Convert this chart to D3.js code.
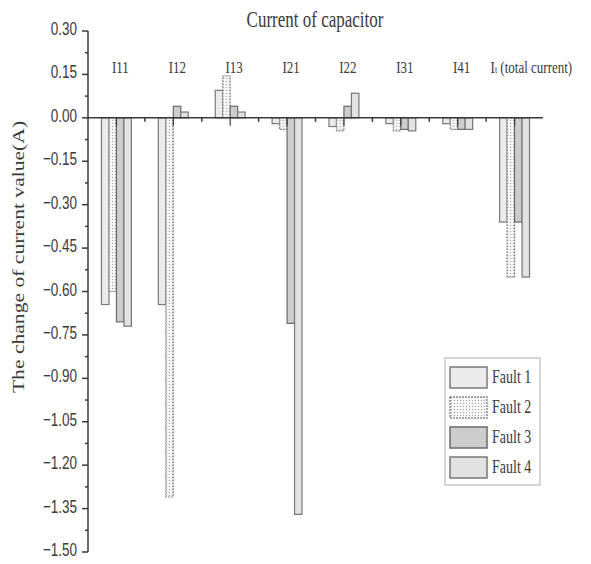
<!DOCTYPE html>
<html>
<head>
<meta charset="utf-8">
<script src="https://cdn.jsdelivr.net/npm/d3@7"></script>
<style>
  body { margin: 0; background: #fff; }
  svg { display: block; }
</style>
</head>
<body>
<svg width="591" height="564"></svg>
<script>
"use strict";

const categories = ["I11", "I12", "I13", "I21", "I22", "I31", "I41", "It"];
const series = ["Fault 1", "Fault 2", "Fault 3", "Fault 4"];
const fault1 = [-0.645, -0.645, 0.095, -0.02, -0.03, -0.02, -0.02, -0.36];
const fault2 = [-0.60, -1.31, 0.145, -0.04, -0.045, -0.045, -0.04, -0.55];
const fault3 = [-0.705, 0.04, 0.04, -0.71, 0.04, -0.04, -0.04, -0.36];
const fault4 = [-0.72, 0.02, 0.02, -1.37, 0.085, -0.045, -0.04, -0.55];
const yTicks = [0.30, 0.15, 0.00, -0.15, -0.30, -0.45, -0.60, -0.75, -0.90, -1.05, -1.20, -1.35, -1.50];

const values = [fault1, fault2, fault3, fault4];
const svg = d3.select("svg");
const stretch = 1.35;
const ink = "#3a3a3a";

const y = d3.scaleLinear().domain([-1.5, 0.3]).range([552, 31]);
const x = d3.scaleBand().domain(categories).range([88, 543]);
const x1 = d3.scaleBand().domain(series).range([0, x.bandwidth()]).paddingOuter(1.8);

// fills for the four faults
const defs = svg.append("defs");
const dots = defs.append("pattern")
  .attr("id", "dots").attr("width", 3).attr("height", 3)
  .attr("patternUnits", "userSpaceOnUse");
dots.append("rect").attr("width", 3).attr("height", 3).attr("fill", "#f6f6f6");
dots.append("rect").attr("width", 1).attr("height", 1).attr("fill", "#9a9a9a");

const fills = ["#ebebeb", "url(#dots)", "#cdcdcd", "#e2e2e2"];
const strokes = ["#7a7a7a", "#8a8a8a", "#6a6a6a", "#777"];

// bars
const groups = svg.append("g").selectAll("g")
  .data(categories)
  .join("g")
  .attr("transform", d => `translate(${x(d)},0)`);

groups.selectAll("rect")
  .data((d, i) => series.map((s, k) => ({ s: s, k: k, v: values[k][i] })))
  .join("rect")
  .attr("x", d => x1(d.s))
  .attr("width", x1.bandwidth())
  .attr("y", d => y(Math.max(0, d.v)))
  .attr("height", d => Math.abs(y(d.v) - y(0)))
  .attr("fill", d => fills[d.k])
  .attr("stroke", d => strokes[d.k])
  .attr("stroke-width", 1.2)
  .attr("stroke-dasharray", d => d.k === 1 ? "2,1" : null);

// stretched text helper
function label(g, tx, ty, txt, size, family, anchor, rot) {
  return g.append("text")
    .attr("transform", `translate(${tx},${ty}) scale(1,${stretch})` + (rot ? ` rotate(${rot})` : ""))
    .attr("font-size", size)
    .attr("font-family", family)
    .attr("text-anchor", anchor)
    .attr("fill", ink)
    .text(txt);
}

// y axis
const yAxis = svg.append("g").attr("transform", "translate(88,0)");
yAxis.append("line").attr("y1", y(0.3)).attr("y2", y(-1.5))
  .attr("stroke", ink).attr("stroke-width", 1.5);
yAxis.selectAll(".major").data(yTicks).join("line")
  .attr("x1", -6).attr("x2", 0)
  .attr("y1", d => y(d)).attr("y2", d => y(d))
  .attr("stroke", ink).attr("stroke-width", 1.5);
yAxis.selectAll(".minor").data(yTicks.slice(1)).join("line")
  .attr("x1", -3).attr("x2", 0)
  .attr("y1", d => y(d + 0.075)).attr("y2", d => y(d + 0.075))
  .attr("stroke", ink).attr("stroke-width", 1.5);
yTicks.forEach(t => {
  label(yAxis, -11, y(t) + 4, d3.format(".2f")(t), 13.5,
    "'Liberation Sans Narrow', 'Liberation Sans', sans-serif", "end");
});

// x axis at zero
const xAxis = svg.append("g").attr("transform", `translate(0,${y(0)})`);
xAxis.append("line").attr("x1", 88).attr("x2", 543)
  .attr("stroke", ink).attr("stroke-width", 1.5);
xAxis.selectAll(".tick").data(categories).join("line")
  .attr("x1", d => x(d) + x.bandwidth() / 2).attr("x2", d => x(d) + x.bandwidth() / 2)
  .attr("y1", 0).attr("y2", 8)
  .attr("stroke", ink).attr("stroke-width", 1.2);
xAxis.selectAll(".minor").data(categories.slice(1)).join("line")
  .attr("x1", d => x(d)).attr("x2", d => x(d))
  .attr("y1", 0).attr("y2", 4)
  .attr("stroke", ink).attr("stroke-width", 1.5);

// category labels
const serif = "'Liberation Serif', 'Times New Roman', serif";
categories.forEach((c, i) => {
  const cx = x(c) + x.bandwidth() / 2;
  const last = i === categories.length - 1;
  const t = label(svg, last ? cx - 24 : cx + 4, 73, "", 13, serif, last ? "start" : "middle");
  t.append("tspan").text(c[0]);
  t.append("tspan").attr("font-size", last ? 8 : 13).text(c.slice(1));
  if (last) t.append("tspan").text(" (total current)");
});

// titles
label(svg, 315, 27, "Current of capacitor", 17, serif, "middle");
label(svg, 24, 257, "The change of current value(A)", 16, serif, "middle", -90);

// legend
const legend = svg.append("g").attr("transform", "translate(445,358)");
legend.append("rect").attr("width", 95).attr("height", 127)
  .attr("fill", "#fff").attr("stroke", "#c8c8c8").attr("stroke-width", 1.5);
const ly = d3.scaleBand().domain(series).range([6, 126]);
series.forEach((s, k) => {
  legend.append("rect")
    .attr("x", 5).attr("y", ly(s) + 3)
    .attr("width", 37).attr("height", ly.bandwidth() - 9)
    .attr("fill", fills[k]).attr("stroke", strokes[k]).attr("stroke-width", 1.5)
    .attr("stroke-dasharray", k === 1 ? "2,1" : null);
  label(legend, 47, ly(s) + ly.bandwidth() / 2 + 4, s, 14, serif, "start");
});
</script>
</body>
</html>
